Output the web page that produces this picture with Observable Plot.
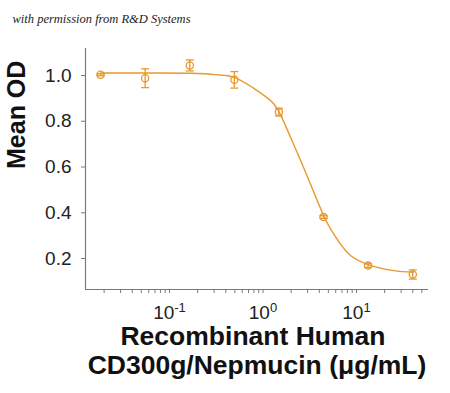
<!DOCTYPE html>
<html><head><meta charset="utf-8">
<script src="https://cdn.jsdelivr.net/npm/d3@7"></script>
<script src="https://cdn.jsdelivr.net/npm/@observablehq/plot@0.6"></script>
<style>
body{margin:0;background:#fff}
#chart svg{font-family:"Liberation Sans",Arial,sans-serif;overflow:visible}
</style>
</head><body><div id="chart"></div>
<script>
// Measured points (dose in µg/mL, mean OD, error half-height)
const doses  = [0.0183, 0.0549, 0.165, 0.494, 1.48, 4.44, 13.3, 40];
const meanOD = [1.003, 0.988, 1.044, 0.981, 0.840, 0.381, 0.169, 0.130];
const errOD  = [0.004, 0.041, 0.024, 0.036, 0.017, 0.006, 0.008, 0.020];

// Fitted curve
const fitDose = [0.0183, 0.05, 0.168, 0.31, 0.484, 0.791, 1.295, 1.475, 1.97, 2.71, 3.80, 4.47, 5.67, 8.63, 13.5, 24.9, 40.7];
const fitOD   = [1.011, 1.011, 1.010, 1.004, 0.993, 0.945, 0.878, 0.843, 0.730, 0.599, 0.454, 0.386, 0.309, 0.213, 0.172, 0.147, 0.140];

const yTicks = [0.2, 0.4, 0.6, 0.8, 1.0];
const xMajor = [0.1, 1, 10];
const xMajorExp = ["-1", "0", "1"];

const xDomain = [0.01264, 58.9];
const yDomain = [0.0645, 1.118];
const orange = "#E8982C";
const axisGray = "#7a7a7a";

const pts = doses.map((d, i) => ({dose: d, od: meanOD[i], lo: meanOD[i] - errOD[i], hi: meanOD[i] + errOD[i]}));
const fit = fitDose.map((d, i) => ({dose: d, od: fitOD[i]}));
const xMinor = d3.scaleLog().domain(xDomain).ticks().filter(t => !xMajor.some(m => Math.abs(m - t) < 1e-9));
const expOf = d => xMajorExp[xMajor.findIndex(m => Math.abs(m - d) < 1e-9)];

const capSymbol = {draw(ctx) { ctx.moveTo(-4, 0); ctx.lineTo(4, 0); }};

const chart = Plot.plot({
  width: 450,
  height: 393,
  marginLeft: 85,
  marginRight: 22,
  marginTop: 48,
  marginBottom: 104,
  x: {type: "log", domain: xDomain},
  y: {domain: yDomain},
  marks: [
    Plot.ruleX([xDomain[0]], {stroke: axisGray, strokeWidth: 1.2}),
    Plot.ruleY([yDomain[0]], {stroke: axisGray, strokeWidth: 1.2}),
    Plot.axisY({ticks: yTicks, tickFormat: d3.format(".1f"), tickSize: 4, tickPadding: 10, fontSize: 19, stroke: axisGray, color: "#222", label: null}),
    Plot.axisX({ticks: xMinor, tickFormat: () => "", tickSize: 4, stroke: axisGray, label: null}),
    Plot.axisX({ticks: xMajor, tickFormat: d => "10^" + expOf(d), tickSize: 4, tickPadding: 12, fontSize: 19, stroke: axisGray, color: "#222", label: null}),
    Plot.line(fit, {x: "dose", y: "od", stroke: orange, strokeWidth: 1.4, curve: "catmull-rom"}),
    Plot.ruleX(pts, {x: "dose", y1: "lo", y2: "hi", stroke: orange, strokeWidth: 1.3}),
    Plot.dot(pts, {x: "dose", y: "lo", symbol: capSymbol, stroke: orange, strokeWidth: 1.3, fill: "none"}),
    Plot.dot(pts, {x: "dose", y: "hi", symbol: capSymbol, stroke: orange, strokeWidth: 1.3, fill: "none"}),
    Plot.dot(pts, {x: "dose", y: "od", r: 3.6, stroke: orange, strokeWidth: 1.3, fill: "none"}),
    Plot.text(["Mean OD"], {frameAnchor: "left", dx: -69, rotate: -90, fontSize: 25, fontWeight: "bold", fill: "#111"}),
    Plot.text(["Recombinant Human"], {frameAnchor: "bottom", dx: -4, dy: 55, fontSize: 26.5, fontWeight: "bold", fill: "#111"}),
    Plot.text(["CD300g/Nepmucin (\u03bcg/mL)"], {frameAnchor: "bottom", dy: 84, fontSize: 26.5, fontWeight: "bold", fill: "#111"}),
    Plot.text(["with permission from R&D Systems"], {frameAnchor: "top-left", dx: -73, dy: -34, textAnchor: "start", fontSize: 12.5, fontStyle: "italic", fontFamily: "Liberation Serif, serif", fill: "#222"})
  ]
});
document.getElementById("chart").appendChild(chart);

// Render "10^n" tick labels with superscript exponents
d3.select(chart).selectAll("text").each(function() {
  const t = this.textContent;
  if (/^10\^/.test(t)) {
    const exp = t.slice(3);
    const el = d3.select(this);
    el.text("");
    el.append("tspan").text("10");
    el.append("tspan").attr("dy", "-0.55em").attr("font-size", "13px").text(exp);
  }
});
</script>
</body></html>
